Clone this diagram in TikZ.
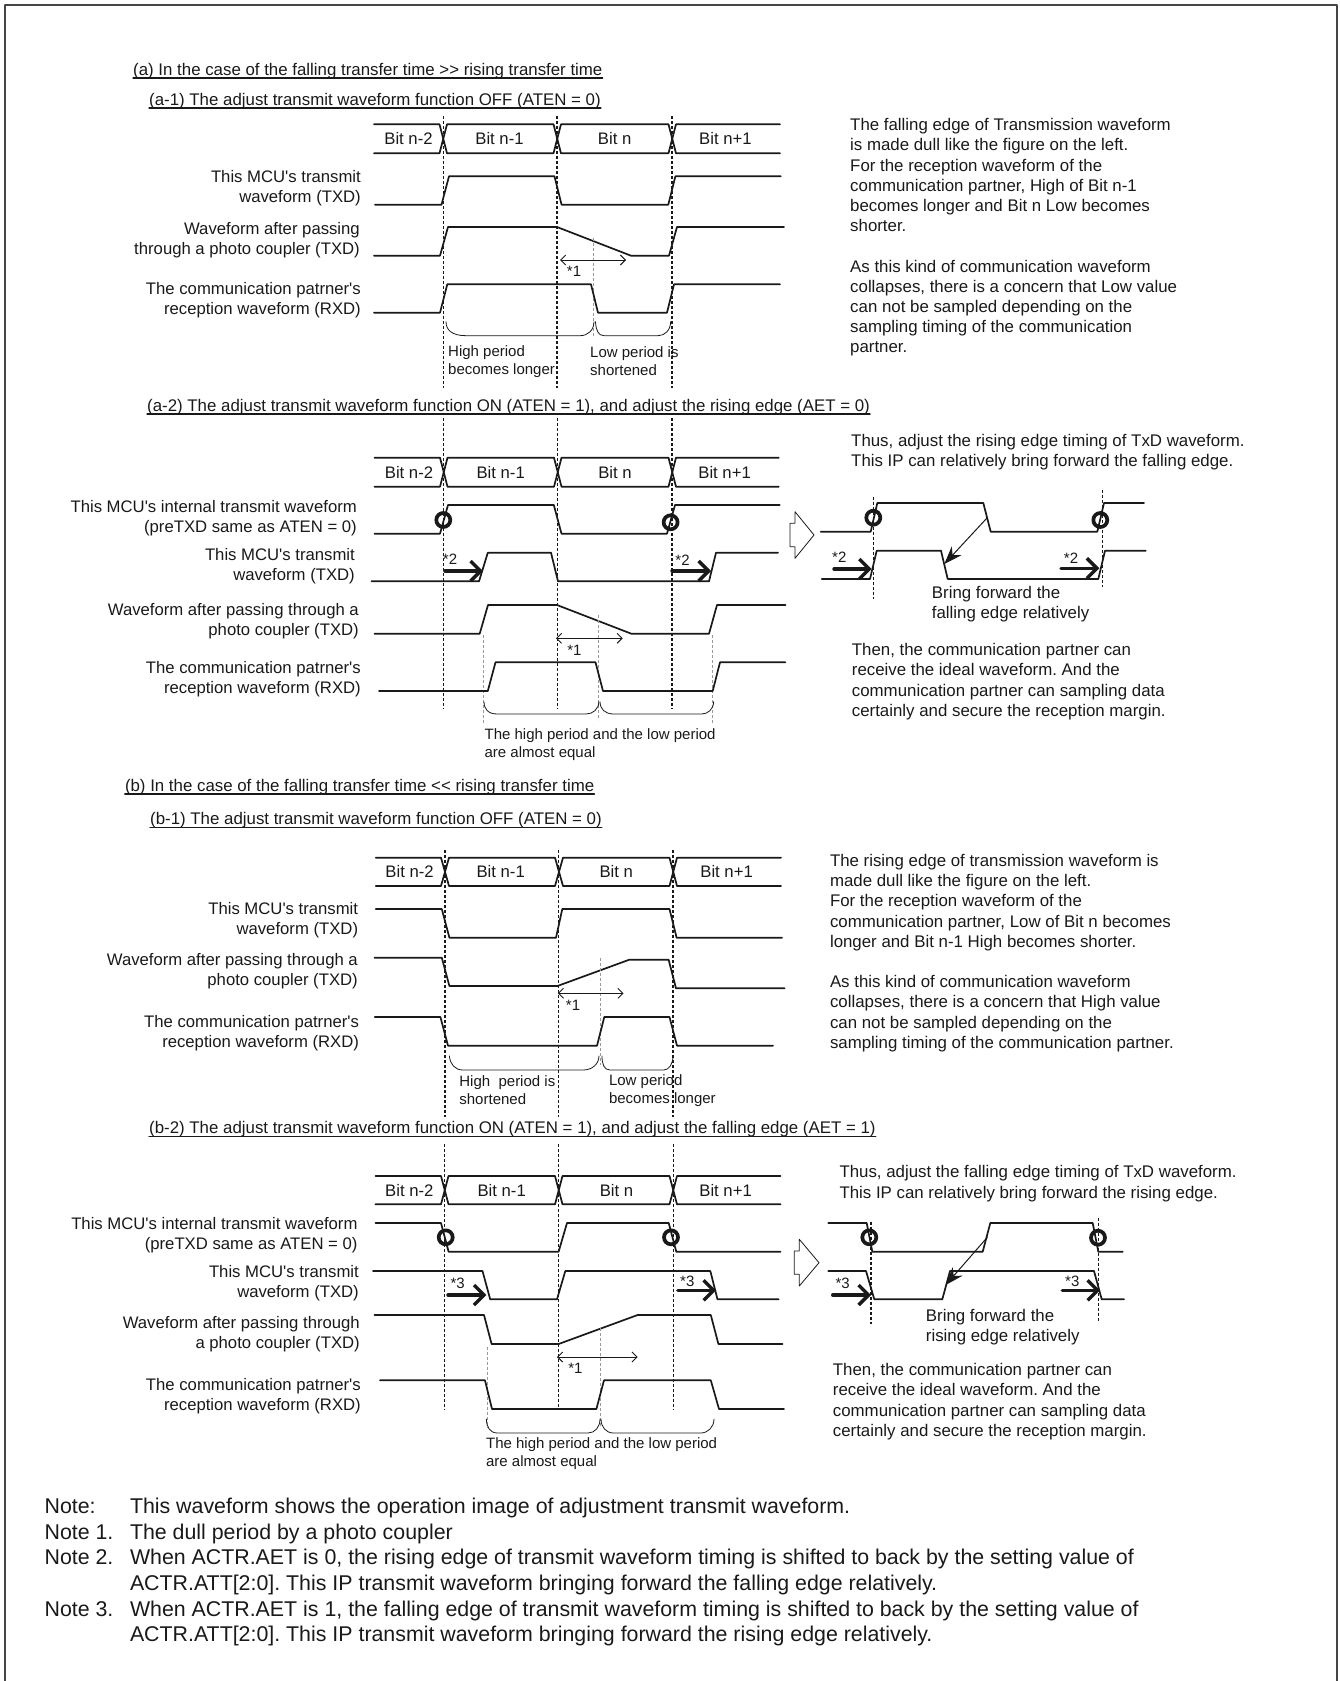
\documentclass[tikz,border=0pt]{standalone}
\usepackage{fontspec}
\setmainfont[Ligatures=TeXOff]{Liberation Sans}
\frenchspacing
\usetikzlibrary{arrows.meta}
\definecolor{wavegray}{rgb}{0.1,0.1,0.1}
\definecolor{framegray}{rgb}{0.27,0.27,0.27}
\definecolor{guidegray}{rgb}{0.6,0.6,0.6}
\tikzset{
  txt/.style={inner sep=0pt,yshift=-1pt,text=wavegray,font=\fontsize{16.7}{20}\selectfont},
  ttl/.style={inner sep=0pt,anchor=base west,text=wavegray,font=\fontsize{16.85}{20.2}\selectfont},
  rlbl/.style={txt,anchor=east,align=right},
  body/.style={inner sep=0pt,yshift=-2pt,text=wavegray,anchor=west,align=left,font=\fontsize{16.85}{20.2}\selectfont},
  small/.style={inner sep=0pt,yshift=-2pt,anchor=west,align=left,text=wavegray,font=\fontsize{15}{18.2}\selectfont},
  star/.style={inner sep=0pt,yshift=-1.5pt,text=wavegray,font=\fontsize{15}{16}\selectfont},
  note/.style={inner sep=0pt,anchor=base west,text=wavegray,font=\fontsize{21.35}{25}\selectfont},
  wave/.style={line width=1.7pt,color=wavegray},
  uline/.style={line width=1.3pt,color=wavegray},
  cuts/.style={line width=1.3pt,color=wavegray,dash pattern=on 3pt off 2pt,line cap=butt},
  guide/.style={line width=1pt,color=guidegray,dash pattern=on 3pt off 2pt,line cap=butt},
  brc/.style={line width=0.8pt,color=wavegray},
  ringmark/.style={line width=3.7pt,color=wavegray},
  span/.style={line width=0.9pt,color=wavegray,{Straight Barb[length=5pt,width=10pt]}-{Straight Barb[length=5pt,width=10pt]}},
  shove/.style={line width=3.4pt,color=wavegray,-{Straight Barb[length=10pt,width=20pt]}},
  pull/.style={line width=1pt,color=wavegray,-{Stealth[length=18pt,width=13pt]}},
  hollow/.style={line width=0.8pt,color=wavegray},
}
\begin{document}
\begin{tikzpicture}[x=1pt,y=-1pt,line cap=round,line join=round]
  \useasboundingbox (0,0) rectangle (1339,1681);
  \draw[line width=2pt,color=framegray] (5,1681)--(5,5)--(1337,5)--(1337,1681);

  \node[ttl] (ta) at (133,75) {(a) In the case of the falling transfer time >{}> rising transfer time};
  \draw[uline] ([yshift=-3pt]ta.base west)--([yshift=-3pt]ta.base east);
  \node[ttl] (taa) at (149,105) {(a-1) The adjust transmit waveform function OFF (ATEN = 0)};
  \draw[uline] ([yshift=-3pt]taa.base west)--([yshift=-3pt]taa.base east);

  \draw[cuts] (443.3,116)--(443.3,388);
  \draw[cuts] (557.1,116)--(557.1,388);
  \draw[cuts] (671.9,116)--(671.9,388);
  \draw[wave] (374,124.3)--(439.5,124.3)--(447,153.3)--(553.5,153.3)--(561,124.3)--(668.5,124.3)--(676,153.3)--(780,153.3);
  \draw[wave] (374,153.3)--(439.5,153.3)--(447,124.3)--(553.5,124.3)--(561,153.3)--(668.5,153.3)--(676,124.3)--(780,124.3);
  \node[txt] (ba1) at (408.5,138) {Bit n-2};
  \node[txt] (ba2) at (499.5,138) {Bit n-1};
  \node[txt] (ba3) at (614.7,138) {Bit n};
  \node[txt] (ba4) at (725.4,138) {Bit n+1};
  \draw[wave] (375,204.7)--(441.5,204.7)--(449,176.3)--(554.5,176.3)--(561.6,204.7)--(668.3,204.7)--(675.4,176.3)--(780.8,176.3);
  \node[rlbl] (la1) at (361,186.7) {This MCU's transmit\\waveform (TXD)};
  \draw[wave] (374,255.7)--(440,255.7)--(448,227)--(557,227)--(631,255.7)--(669,255.7)--(677,227)--(784,227);
  \node[rlbl] (la2) at (360,239) {Waveform after passing\\through a photo coupler (TXD)};
  \draw[guide] (593.8,238)--(593.8,337);
  \draw[span] (560,260)--(626,260);
  \node[star] (sa1) at (574,270) {*1};
  \draw[wave] (374,312.7)--(440,312.7)--(447.3,284.3)--(591,284.3)--(598,312.7)--(667,312.7)--(674,284.3)--(780,284.3);
  \node[rlbl] (la3) at (361,298.7) {The communication patrner's\\reception waveform (RXD)};
  \draw[brc] (446,321.7) .. controls (446,330) and (452,335.7) .. (466,335.7)--(580,335.7) .. controls (588,335.7) and (594,330) .. (594,321.7);
  \draw[brc] (595.5,321.7) .. controls (596,330) and (598,335.7) .. (604,335.7)--(658,335.7) .. controls (665,335.7) and (670.6,330) .. (670.6,321.7);
  \node[small] (pa1) at (448,360) {High period\\becomes longer};
  \node[small] (pa2) at (590,359) {Low period is\\shortened};
  \node[body] (ra1) at (850,235.5) {The falling edge of Transmission waveform\\is made dull like the figure on the left.\\For the reception waveform of the\\communication partner, High of Bit n-1\\becomes longer and Bit n Low becomes\\shorter.\\[20.2pt]As this kind of communication waveform\\collapses, there is a concern that Low value\\can not be sampled depending on the\\sampling timing of the communication\\partner.};

  \node[ttl] (tab) at (147,411) {(a-2) The adjust transmit waveform function ON (ATEN = 1), and adjust the rising edge (AET = 0)};
  \draw[uline] ([yshift=-3pt]tab.base west)--([yshift=-3pt]tab.base east);
  \draw[cuts] (443.8,418)--(443.8,709);
  \draw[cuts] (557.7,418)--(557.7,709);
  \draw[cuts] (672,418)--(672,709);
  \draw[wave] (374.4,457.7)--(440,457.7)--(447.5,486.7)--(554,486.7)--(561.5,457.7)--(668.5,457.7)--(676,486.7)--(778.7,486.7);
  \draw[wave] (374.4,486.7)--(440,486.7)--(447.5,457.7)--(554,457.7)--(561.5,486.7)--(668.5,486.7)--(676,457.7)--(778.7,457.7);
  \node[txt] (bb1) at (409,471.7) {Bit n-2};
  \node[txt] (bb2) at (500.7,471.7) {Bit n-1};
  \node[txt] (bb3) at (615,471.7) {Bit n};
  \node[txt] (bb4) at (724.6,471.7) {Bit n+1};
  \draw[wave] (374.4,533.7)--(440,533.7)--(448,505)--(553.8,505)--(561.5,533.7)--(667,533.7)--(675,505)--(779.7,505);
  \draw[ringmark] (443.3,520) circle (7);
  \draw[ringmark] (670.6,522.3) circle (7);
  \node[rlbl] (lb1) at (357,517) {This MCU's internal transmit waveform\\(preTXD same as ATEN = 0)};
  \draw[wave] (371.5,581.3)--(479,581.3)--(487.8,552.7)--(551,552.7)--(558,581.3)--(709,581.3)--(716,552.7)--(778,552.7);
  \node[rlbl] (lb2) at (355,565) {This MCU's transmit\\waveform (TXD)};
  \node[star] (sb1) at (450,558) {*2};
  \node[star] (sb2) at (682.5,559) {*2};
  \draw[shove] (445,571)--(483,571);
  \draw[shove] (672,571)--(711,571);
  \draw[wave] (374.4,633.7)--(479.7,633.7)--(488,605)--(557,605)--(631.3,633.7)--(709,633.7)--(717,605)--(785.4,605);
  \node[rlbl] (lb3) at (359,620) {Waveform after passing through a\\photo coupler (TXD)};
  \draw[guide] (598.8,615)--(598.8,720);
  \draw[guide] (483.5,635)--(483.5,725);
  \draw[guide] (712.7,635)--(712.7,723);
  \draw[span] (556,638.3)--(622.7,638.3);
  \node[star] (sb3) at (574.4,649) {*1};
  \draw[wave] (379,691)--(487.8,691)--(495.5,662.3)--(595.5,662.3)--(603,691)--(712.7,691)--(720,662.3)--(785.4,662.3);
  \node[rlbl] (lb4) at (361,677.8) {The communication patrner's\\reception waveform (RXD)};
  \draw[brc] (484,701.7) .. controls (484,709) and (488,714) .. (497.4,714)--(586,714) .. controls (593,714) and (598.8,709) .. (598.8,701.7);
  \draw[brc] (600,701.7) .. controls (600,709) and (605,714) .. (613.6,714)--(701.7,714) .. controls (708,714) and (713.6,709) .. (713.6,701.7);
  \node[small] (pb1) at (484.4,743) {The high period and the low period\\are almost equal};
  \node[body] (rb1) at (851,449.8) {Thus, adjust the rising edge timing of TxD waveform.\\This IP can relatively bring forward the falling edge.};
  \draw[hollow,fill=white] (795,511.7)--(814,535)--(795,558.3)--(795,546.7)--(790,546.7)--(790,523.3)--(795,523.3)--cycle;
  \draw[wave] (820.7,531.7)--(870.7,531.7)--(877.3,503)--(983.3,503)--(990.7,531.7)--(1097.3,531.7)--(1104,503)--(1144,503);
  \draw[ringmark] (873.3,517.7) circle (7);
  \draw[ringmark] (1100.3,520) circle (7);
  \draw[cuts] (873.7,496.7)--(873.7,599.3);
  \draw[cuts] (1102.3,490)--(1102.3,586.7);
  \draw[wave] (821.7,579)--(870,579)--(876.7,550.7)--(941,550.7)--(947.7,579)--(1098.3,579)--(1105,550.7)--(1145.7,550.7);
  \node[star] (sb4) at (839.3,555.7) {*2};
  \node[star] (sb5) at (1071,556.7) {*2};
  \draw[shove] (834,569)--(871.7,569);
  \draw[shove] (1061,568.3)--(1099.3,568.3);
  \draw[pull] (986.7,518.3)--(944.3,564);
  \node[body] (rb2) at (931.7,602.3) {Bring forward the\\falling edge relatively};
  \node[body] (rb3) at (851.7,679.6) {Then, the communication partner can\\receive the ideal waveform. And the\\communication partner can sampling data\\certainly and secure the reception margin.};

  \node[ttl] (tb) at (124.8,791) {(b) In the case of the falling transfer time <{}< rising transfer time};
  \draw[uline] ([yshift=-3pt]tb.base west)--([yshift=-3pt]tb.base east);
  \node[ttl] (tba) at (150,824.5) {(b-1) The adjust transmit waveform function OFF (ATEN = 0)};
  \draw[uline] ([yshift=-3pt]tba.base west)--([yshift=-3pt]tba.base east);
  \draw[cuts] (445,850)--(445,1116.7);
  \draw[cuts] (558.8,850)--(558.8,1116.7);
  \draw[cuts] (673,850)--(673,1116.7);
  \draw[wave] (375.7,857.7)--(441,857.7)--(449,886)--(555,886)--(563,857.7)--(669.5,857.7)--(677,886)--(781,886);
  \draw[wave] (375.7,886)--(441,886)--(449,857.7)--(555,857.7)--(563,886)--(669.5,886)--(677,857.7)--(781,857.7);
  \node[txt] (bc1) at (409.6,871) {Bit n-2};
  \node[txt] (bc2) at (500.7,871) {Bit n-1};
  \node[txt] (bc3) at (616.3,871) {Bit n};
  \node[txt] (bc4) at (726.6,871) {Bit n+1};
  \draw[wave] (375.7,909)--(441.8,909)--(449.4,937.7)--(556,937.7)--(562.3,909)--(669.5,909)--(676.6,937.7)--(782,937.7);
  \node[rlbl] (lc1) at (358.3,919.3) {This MCU's transmit\\waveform (TXD)};
  \draw[wave] (374.4,957.7)--(441.8,957.7)--(449.4,986)--(557.4,986)--(629.3,959.7)--(668.6,959.7)--(676,988.3)--(784.6,988.3);
  \node[rlbl] (lc2) at (358,970) {Waveform after passing through a\\photo coupler (TXD)};
  \draw[guide] (600.3,958.3)--(600.3,1065);
  \draw[span] (557.9,993.3)--(623.5,993.3);
  \node[star] (sc1) at (573,1004.3) {*1};
  \draw[wave] (374.8,1017)--(440.4,1017)--(448,1045.7)--(597,1045.7)--(604.3,1017)--(669.5,1017)--(677,1045.7)--(773,1045.7);
  \node[rlbl] (lc3) at (359.2,1031.7) {The communication patrner's\\reception waveform (RXD)};
  \draw[brc] (449.4,1056) .. controls (450,1064) and (455,1070) .. (462.8,1070)--(583.3,1070) .. controls (592,1070) and (599,1064) .. (599,1056);
  \draw[brc] (602,1056) .. controls (602,1064) and (604,1070) .. (610,1070)--(663.7,1070) .. controls (669,1070) and (673,1064) .. (673,1056);
  \node[small] (pc1) at (459.2,1088.3) {High\ \ period is\\shortened};
  \node[small] (pc2) at (608.8,1088.3) {Low period\\becomes longer};
  \node[body] (rc1) at (829.8,951) {The rising edge of transmission waveform is\\made dull like the figure on the left.\\For the reception waveform of the\\communication partner, Low of Bit n becomes\\longer and Bit n-1 High becomes shorter.\\[20.2pt]As this kind of communication waveform\\collapses, there is a concern that High value\\can not be sampled depending on the\\sampling timing of the communication partner.};

  \node[ttl] (tbb) at (149,1133.5) {(b-2) The adjust transmit waveform function ON (ATEN = 1), and adjust the falling edge (AET = 1)};
  \draw[uline] ([yshift=-3pt]tbb.base west)--([yshift=-3pt]tbb.base east);
  \draw[cuts] (444.7,1144)--(444.7,1409.3);
  \draw[cuts] (558.6,1144)--(558.6,1409.3);
  \draw[cuts] (673.4,1144)--(673.4,1409.3);
  \draw[wave] (375.4,1176)--(441,1176)--(448.5,1204.3)--(555,1204.3)--(562.5,1176)--(669.5,1176)--(677,1204.3)--(780.6,1204.3);
  \draw[wave] (375.4,1204.3)--(441,1204.3)--(448.5,1176)--(555,1176)--(562.5,1204.3)--(669.5,1204.3)--(677,1176)--(780.6,1176);
  \node[txt] (bd1) at (409.3,1189.3) {Bit n-2};
  \node[txt] (bd2) at (501.7,1189.3) {Bit n-1};
  \node[txt] (bd3) at (616.5,1189.3) {Bit n};
  \node[txt] (bd4) at (725.6,1189.3) {Bit n+1};
  \draw[wave] (375.4,1223)--(441,1223)--(448.6,1251.7)--(558.6,1251.7)--(567,1223)--(668.7,1223)--(676.3,1251.7)--(780.6,1251.7);
  \draw[ringmark] (445.7,1237.3) circle (7);
  \draw[ringmark] (671,1237.3) circle (7);
  \node[rlbl] (ld1) at (357.7,1233.7) {This MCU's internal transmit waveform\\(preTXD same as ATEN = 0)};
  \draw[wave] (373,1271)--(482.5,1271)--(490.2,1299.3)--(557,1299.3)--(565.3,1271)--(710.3,1271)--(717.5,1299.3)--(778.7,1299.3);
  \node[rlbl] (ld2) at (359,1282.5) {This MCU's transmit\\waveform (TXD)};
  \node[star] (sd1) at (457.7,1281.7) {*3};
  \node[star] (sd2) at (687.3,1280) {*3};
  \draw[shove] (448,1295)--(486.4,1295);
  \draw[shove] (677.8,1290.3)--(716,1290.3);
  \draw[wave] (374.4,1315)--(484,1315)--(491.6,1344)--(558.6,1344)--(637.6,1315)--(710.8,1315)--(718.4,1344)--(782.5,1344);
  \node[rlbl] (ld3) at (360,1332.7) {Waveform after passing through\\a photo coupler (TXD)};
  \draw[guide] (600,1328)--(600,1428);
  \draw[guide] (487.8,1346.7)--(487.8,1428);
  \draw[span] (557,1357)--(637.6,1357);
  \node[star] (sd3) at (575.4,1367) {*1};
  \draw[wave] (380,1380.3)--(485,1380.3)--(492,1409)--(596.4,1409)--(604,1380.3)--(710.8,1380.3)--(719,1409)--(784,1409);
  \node[rlbl] (ld4) at (361,1395) {The communication patrner's\\reception waveform (RXD)};
  \draw[brc] (486.4,1419) .. controls (486.4,1427) and (490,1433) .. (497.4,1433)--(588,1433) .. controls (595,1433) and (600,1427) .. (600,1419);
  \draw[brc] (601,1419) .. controls (601,1427) and (606,1433) .. (613.6,1433)--(700.7,1433) .. controls (708,1433) and (714,1427) .. (714,1419);
  \node[small] (pd1) at (485.9,1451.5) {The high period and the low period\\are almost equal};
  \node[body] (rd1) at (839.3,1181.7) {Thus, adjust the falling edge timing of TxD waveform.\\This IP can relatively bring forward the rising edge.};
  \draw[hollow,fill=white] (799.3,1239.3)--(819,1262.7)--(799.3,1286)--(799.3,1274.3)--(794.3,1274.3)--(794.3,1251)--(799.3,1251)--cycle;
  \draw[wave] (828.3,1223)--(866.7,1223)--(872.3,1251.7)--(982.7,1251.7)--(990.3,1223)--(1092.7,1223)--(1098.3,1251.7)--(1122.7,1251.7);
  \draw[ringmark] (869.3,1237.3) circle (7);
  \draw[ringmark] (1098,1237.7) circle (7);
  \draw[cuts] (871,1221.7)--(871,1324);
  \draw[cuts] (1098.3,1217.7)--(1098.3,1320.7);
  \draw[wave] (828.3,1271)--(866,1271)--(874.3,1299.3)--(942.3,1299.3)--(950,1271)--(1094,1271)--(1101.7,1299.3)--(1124,1299.3);
  \node[star] (sd4) at (842.7,1281.7) {*3};
  \node[star] (sd5) at (1072.3,1280) {*3};
  \draw[shove] (832.7,1295)--(871,1295);
  \draw[shove] (1062.3,1290.3)--(1100,1290.3);
  \draw[pull] (987.3,1237.3)--(945.7,1285);
  \node[body] (rd2) at (925.7,1325) {Bring forward the\\rising edge relatively};
  \node[body] (rd3) at (832.7,1399.6) {Then, the communication partner can\\receive the ideal waveform. And the\\communication partner can sampling data\\certainly and secure the reception margin.};

  \node[note] (na) at (44.4,1513) {Note:};
  \node[note] (naa) at (129.8,1513) {This waveform shows the operation image of adjustment transmit waveform.};
  \node[note] (nb) at (44.4,1539) {Note 1.};
  \node[note] (nbb) at (129.8,1539) {The dull period by a photo coupler};
  \node[note] (nc) at (44.4,1564.5) {Note 2.};
  \node[note] (ncc) at (129.8,1564.5) {When ACTR.AET is 0, the rising edge of transmit waveform timing is shifted to back by the setting value of};
  \node[note] (ncd) at (129.8,1590) {ACTR.ATT[2:0]. This IP transmit waveform bringing forward the falling edge relatively.};
  \node[note] (nd) at (44.4,1616) {Note 3.};
  \node[note] (ndd) at (129.8,1616) {When ACTR.AET is 1, the falling edge of transmit waveform timing is shifted to back by the setting value of};
  \node[note] (nde) at (129.8,1641.5) {ACTR.ATT[2:0]. This IP transmit waveform bringing forward the rising edge relatively.};
\end{tikzpicture}
\end{document}
